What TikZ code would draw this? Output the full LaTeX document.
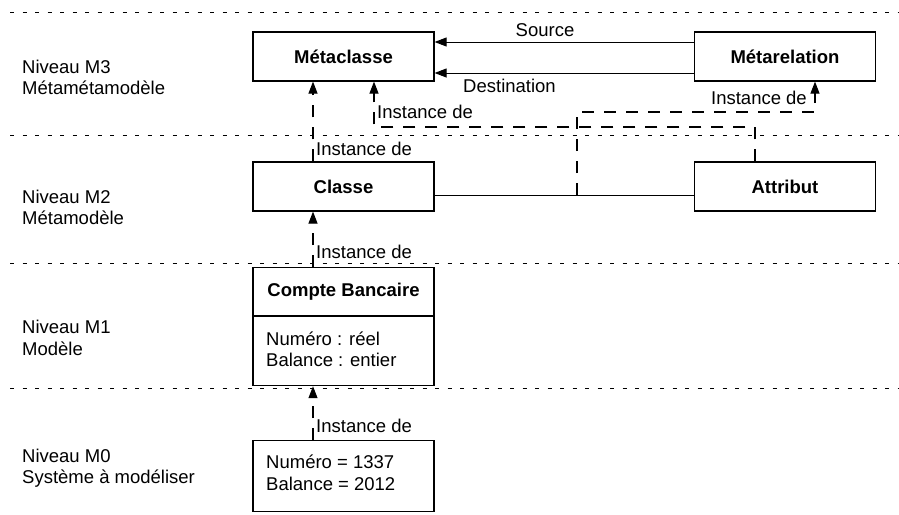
\documentclass[tikz,border=0pt]{standalone}
\usepackage{fontspec}
\setmainfont{Liberation Sans}
\usetikzlibrary{arrows.meta}
\newcommand\diafont{\fontsize{18.5}{22}\selectfont}
\begin{document}
\begin{tikzpicture}[x=1pt,y=-1pt,
  every node/.style={font=\diafont, inner sep=0pt},
  box/.style={draw, line width=1.2pt, minimum width=181pt, minimum height=49pt,
    font=\diafont\bfseries, text height=13.3pt, text depth=0pt},
  frame/.style={draw, line width=1.2pt, minimum width=181pt, anchor=north},
  title/.style={font=\diafont\bfseries, text height=13.3pt, text depth=0pt},
  txt/.style={anchor=base west},
  sep/.style={line width=0.9pt, dash pattern=on 4pt off 8.5pt},
  rel/.style={line width=1pt, -{Triangle[length=12pt,width=9pt]}},
  inst/.style={line width=1.1pt, dash pattern=on 12pt off 10pt,
    -{Triangle[length=12pt,width=9pt]}},
]
\path[use as bounding box] (0,0) rectangle (899,514);

% level separators
\draw[sep] (10,12) -- (899,12);
\draw[sep] (10,135) -- (899,135);
\draw[sep] (10,263) -- (899,263);
\draw[sep] (10,388) -- (899,388);

% level names
\node[txt] (m3a) at (22,73) {Niveau M3};
\node[txt] (m3b) at (22,94.5) {Métamétamodèle};
\node[txt] (m2a) at (22,203) {Niveau M2};
\node[txt] (m2b) at (22,224) {Métamodèle};
\node[txt] (m1a) at (22,333) {Niveau M1};
\node[txt] (m1b) at (22,355) {Modèle};
\node[txt] (m0a) at (22,462) {Niveau M0};
\node[txt] (m0b) at (22,483) {Système à modéliser};

% M3 and M2 boxes
\node[box] (meta) at (343.5,56.5) {Métaclasse};
\node[box] (metarel) at (785,56.5) {Métarelation};
\node[box] (classe) at (343.5,186.5) {Classe};
\node[box] (attr) at (785,186.5) {Attribut};

% M1 class box
\node[frame, minimum height=118pt] (compte) at (343.5,267) {};
\node[title] (compteT) at (343.5,290) {Compte Bancaire};
\path (compte.north west) ++(0,49) coordinate (cdl);
\draw[line width=1.2pt] (cdl) -- (cdl -| compte.east);
\node[txt] (compteA) at (266,345) {Numéro : réel};
\node[txt] (compteB) at (266,366) {Balance : entier};

% M0 object box
\node[frame, minimum height=71pt] (sys) at (343.5,440) {};
\node[txt] (sysA) at (266,468) {Numéro = 1337};
\node[txt] (sysB) at (266,490) {Balance = 2012};

% Source / Destination relations
\coordinate (src) at (560,42);
\coordinate (dst) at (560,73);
\draw[rel] (metarel.west |- src) -- (meta.east |- src);
\draw[rel] (metarel.west |- dst) -- (meta.east |- dst);
\node[anchor=base] (srcL) at (545,36) {Source};
\node[anchor=base] (dstL) at (509.5,92) {Destination};

% Classe -- Attribut association
\coordinate (jn) at (577,195);
\draw[line width=1pt] (classe.east |- jn) -- (attr.west |- jn);

% instance-of links
\coordinate (cx) at (313,0);
\coordinate (a2) at (374,127);
\coordinate (a3) at (755,127);
\coordinate (b1) at (577,112);
\coordinate (b2) at (815,112);
\draw[inst] (classe.north -| cx) -- (meta.south -| cx);
\draw[inst] (attr.north -| a3) -- (a3) -- (a2) -- (meta.south -| a2);
\draw[inst] (jn) -- (b1) -- (b2) -- (metarel.south -| b2);
\draw[inst] (compte.north -| cx) -- (classe.south -| cx);
\draw[inst] (sys.north -| cx) -- (compte.south -| cx);

\node[txt] (i1) at (316,155) {Instance de};
\node[txt] (i2) at (377,118) {Instance de};
\node[anchor=base east] (i3) at (807,104) {Instance de};
\node[txt] (i4) at (316,258) {Instance de};
\node[txt] (i5) at (316,432) {Instance de};
\end{tikzpicture}
\end{document}
